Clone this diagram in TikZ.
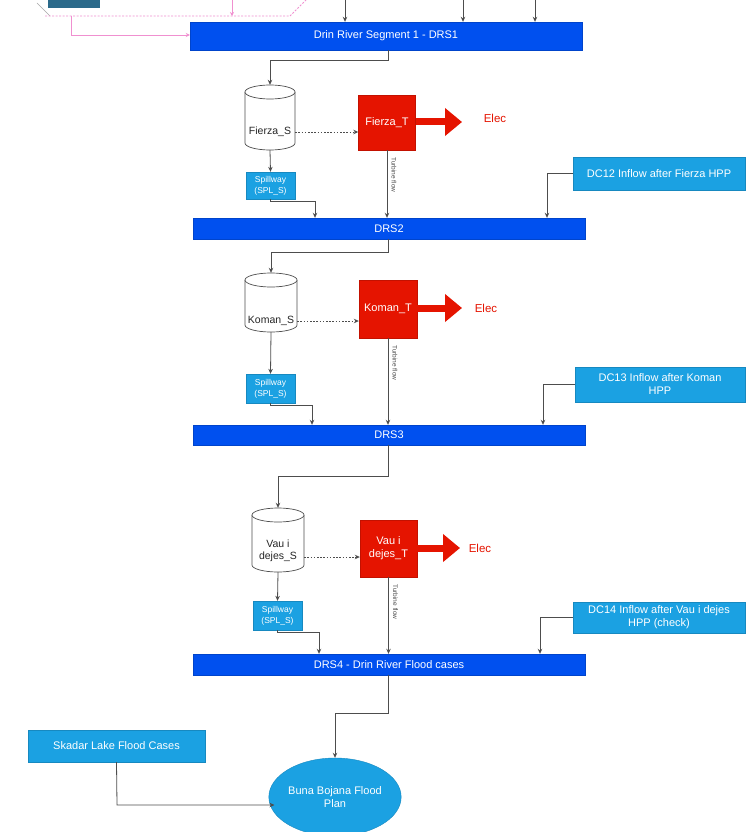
\documentclass[tikz,border=0pt]{standalone}
\usepackage{fontspec}
\setmainfont{Liberation Sans}
\usetikzlibrary{shapes.geometric,arrows.meta,calc}
\definecolor{barblue}{HTML}{0050EF}
\definecolor{boxblue}{HTML}{1BA1E2}
\definecolor{turred}{HTML}{E51400}
\definecolor{linegray}{HTML}{4D4D4D}
\definecolor{pinkline}{HTML}{F090D0}
\definecolor{tealbox}{HTML}{2B6A8A}
\newcommand{\drawcyl}[5]{%
 \pgfmathsetmacro{\cylrx}{#4/2}%
 \pgfmathsetmacro{\cylxl}{#2-#4/2}%
 \pgfmathsetmacro{\cylxr}{#2+#4/2}%
 \pgfmathsetmacro{\cylyt}{#3-#5/2+7}%
 \pgfmathsetmacro{\cylyb}{#3+#5/2-7}%
 \node[minimum width=#4pt, minimum height=#5pt, inner sep=0pt] (#1) at (#2,#3) {};
 \draw[cylline] (\cylxl,\cylyt) -- (\cylxl,\cylyb) arc[start angle=180,end angle=0,x radius=\cylrx,y radius=7] -- (\cylxr,\cylyt);
 \draw[cylline] (#2,\cylyt) ellipse[x radius=\cylrx, y radius=7];
}
\begin{document}
\begin{tikzpicture}[x=1pt,y=-1pt,
  font=\fontsize{11}{13}\selectfont,
  bar/.style={rectangle, fill=barblue, draw=barblue!85!black, line width=0.4pt, text=white, inner sep=0pt},
  lbox/.style={rectangle, fill=boxblue, draw=boxblue!85!black, line width=0.4pt, text=white, align=center, inner sep=0pt},
  spbox/.style={lbox, font=\fontsize{8.5}{11}\selectfont, minimum width=49pt},
  turbox/.style={rectangle, fill=turred, draw=turred!85!black, line width=0.4pt, text=white, align=center, inner sep=0pt},
  cylline/.style={draw=linegray, fill=white, line width=0.7pt},
  restext/.style={text=black!85, align=center, inner sep=0pt, font=\fontsize{10.5}{12.5}\selectfont},
  arr/.style={draw=linegray, line width=0.8pt, -{Stealth[length=5pt,width=4.5pt]}},
  dotarr/.style={arr, dash pattern=on 1.6pt off 1.6pt},
  elecarr/.style={draw=turred, line width=7pt, -{Triangle[length=17pt,width=27pt]}},
  electext/.style={text=turred, font=\fontsize{11.5}{13}\selectfont},
  flowlab/.style={rotate=-90, anchor=west, text=linegray, font=\fontsize{6.5}{7}\selectfont, inner sep=0pt},
  pinkarr/.style={draw=pinkline, line width=0.7pt, -{Stealth[length=4pt,width=4pt]}},
]
\useasboundingbox (0,0) rectangle (752,832);
\fill[white] (0,0) rectangle (752,832);

% ---- top fragments ----
\node[fill=tealbox, minimum width=52pt, minimum height=16pt, inner sep=0pt] (topbox) at (74,0) {};
\draw[black!35, line width=0.6pt] (37,3) -- (50,16);
\draw[pinkline, line width=0.8pt, dash pattern=on 2pt off 1.5pt] (45,16) -- (290,16) -- (306,0);
\coordinate (pk1) at (232,0);
\coordinate (pk2) at (232,16);
\draw[pinkarr] (pk1) -- (pk2);
\coordinate (pk3) at (71,16);
\coordinate (pk4) at (71,35);

% ---- bars ----
\node[bar, minimum width=392pt, minimum height=28pt] (drs1) at (386,36) {Drin River Segment 1 - DRS1};
\node[bar, minimum width=392pt, minimum height=21pt] (drs2) at (389,228.5) {DRS2};
\node[bar, minimum width=392pt, minimum height=20pt] (drs3) at (389,435) {DRS3};
\node[bar, minimum width=392pt, minimum height=21pt] (drs4) at (389,664.5) {DRS4 - Drin River Flood cases};

\draw[pinkarr] (pk3) -- (pk4) -- (pk4 -| drs1.west);

\coordinate (t1) at (345,0);
\coordinate (t2) at (463,0);
\coordinate (t3) at (535,0);
\draw[arr] (t1) -- (t1 |- drs1.north);
\draw[arr] (t2) -- (t2 |- drs1.north);
\draw[arr] (t3) -- (t3 |- drs1.north);

% ---- reservoirs ----
\drawcyl{res1}{270}{117.5}{50}{65}
\node[restext] (res1t) at (270,132) {Fierza\_S};
\drawcyl{res2}{271}{302.5}{52}{59}
\node[restext] (res2t) at (271,321) {Koman\_S};
\drawcyl{res3}{278}{540}{52}{64}
\node[restext] (res3t) at (278,551) {Vau i\\dejes\_S};

% ---- turbines ----
\node[turbox, minimum width=57pt, minimum height=55pt] (tur1) at (387,122.5) {Fierza\_T};
\node[turbox, minimum width=58pt, minimum height=58pt] (tur2) at (388,309) {Koman\_T};
\node[turbox, minimum width=57pt, minimum height=57pt] (tur3) at (388.5,548.5) {Vau i\\dejes\_T};

% ---- spillways ----
\node[spbox, minimum height=27pt] (spill1) at (270.5,185.5) {Spillway\\(SPL\_S)};
\node[spbox, minimum height=29pt] (spill2) at (270.5,388.5) {Spillway\\(SPL\_S)};
\node[spbox, minimum height=29pt] (spill3) at (277.5,615.5) {Spillway\\(SPL\_S)};

% ---- inflow boxes ----
\node[lbox, minimum width=172pt, minimum height=33pt] (dc12) at (659,173.5) {DC12 Inflow after Fierza HPP};
\node[lbox, minimum width=170pt, minimum height=35pt] (dc13) at (660,384.5) {DC13 Inflow after Koman\\HPP};
\node[lbox, minimum width=172pt, minimum height=31pt] (dc14) at (659,617.5) {DC14 Inflow after Vau i dejes\\HPP (check)};

\node[lbox, minimum width=177pt, minimum height=32pt] (skadar) at (116.5,746) {Skadar Lake Flood Cases};
\node[ellipse, fill=boxblue, draw=boxblue!85!black, line width=0.4pt, text=white, align=center, inner sep=0pt, minimum width=124pt, minimum height=78pt] (buna) at (335,797) {Buna Bojana Flood\\Plan};

% ---- Elec ----
\coordinate (el1) at (462,122);
\coordinate (el2) at (462,308);
\coordinate (el3) at (460,548);
\draw[elecarr] (tur1.east |- el1) -- (el1);
\draw[elecarr] (tur2.east |- el2) -- (el2);
\draw[elecarr] (tur3.east |- el3) -- (el3);
\node[electext] (elec1) at (495,118) {Elec};
\node[electext] (elec2) at (486,308) {Elec};
\node[electext] (elec3) at (480,548) {Elec};

% ---- segment connectors ----
\coordinate (b1) at (388,60);
\draw[arr] (drs1.south -| b1) -- (b1) -| (res1.north);
\coordinate (b2) at (388,252);
\draw[arr] (drs2.south -| b2) -- (b2) -| (res2.north);
\coordinate (b3) at (388,476);
\draw[arr] (drs3.south -| b3) -- (b3) -| (res3.north);

% reservoir -> spillway
\draw[arr] (res1.south) -- (spill1.north);
\draw[arr] (res2.south) -- (spill2.north);
\draw[arr] (res3.south) -- (spill3.north);

% reservoir -> turbine (dotted)
\draw[dotarr] (res1t -| res1.east) -- (res1t -| tur1.west);
\draw[dotarr] (res2t -| res2.east) -- (res2t -| tur2.west);
\coordinate (dl3) at (0,557);
\draw[dotarr] (dl3 -| res3.east) -- (dl3 -| tur3.west);

% turbine -> bar
\draw[arr] (tur1.south) -- (tur1.south |- drs2.north);
\draw[arr] (tur2.south) -- (tur2.south |- drs3.north);
\draw[arr] (tur3.south) -- (tur3.south |- drs4.north);
\node[flowlab] (fl1) at ($(tur1.south)+(7,7)$) {Turbine flow};
\node[flowlab] (fl2) at ($(tur2.south)+(7,7)$) {Turbine flow};
\node[flowlab] (fl3) at ($(tur3.south)+(7,7)$) {Turbine flow};

% spillway -> bar
\coordinate (c1) at (315,201);
\draw[arr] (spill1.south) |- (c1) -- (c1 |- drs2.north);
\coordinate (c2) at (312,405);
\draw[arr] (spill2.south) |- (c2) -- (c2 |- drs3.north);
\coordinate (c3) at (319,632);
\draw[arr] (spill3.south) |- (c3) -- (c3 |- drs4.north);

% inflow -> bar
\coordinate (d1) at (547,0);
\draw[arr] (dc12.west) -| (d1 |- drs2.north);
\coordinate (d2) at (543,0);
\draw[arr] (dc13.west) -| (d2 |- drs3.north);
\coordinate (d3) at (540,0);
\draw[arr] (dc14.west) -| (d3 |- drs4.north);

% bottom
\coordinate (e1) at (388,713);
\draw[arr] (drs4.south -| e1) -- (e1) -| (buna.north);
\coordinate (sk) at (117,805);
\coordinate (bw) at (274.5,805);
\draw[arr] (skadar.south) -- (sk) -- (bw);
\end{tikzpicture}
\end{document}
